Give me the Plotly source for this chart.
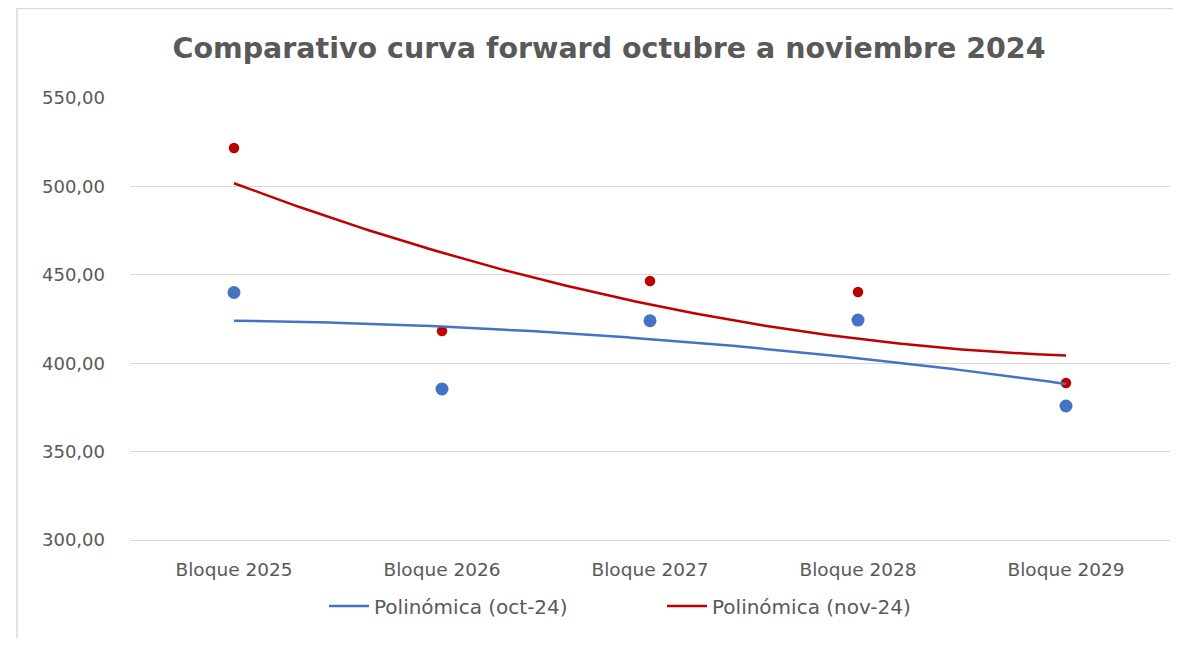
import numpy as np
import plotly.graph_objects as go

categories = ["Bloque 2025", "Bloque 2026", "Bloque 2027", "Bloque 2028", "Bloque 2029"]
oct_24 = [440.0, 385.4, 424.0, 424.4, 375.8]
nov_24 = [521.7, 418.2, 446.5, 440.3, 388.8]
y_ticks = [300, 350, 400, 450, 500, 550]

BLUE = "#4472C4"
RED = "#C00000"
GREY = "#595959"
FONT = "DejaVu Sans"

xpos = np.arange(1, len(categories) + 1)
xs = np.linspace(xpos[0], xpos[-1], 200)

def trend(vals):
    coef = np.polyfit(xpos, vals, 2)
    return np.polyval(coef, xs)

fig = go.Figure()
fig.add_trace(go.Scatter(x=xpos, y=oct_24, mode="markers", showlegend=False,
                         marker=dict(color=BLUE, size=13), hoverinfo="skip"))
fig.add_trace(go.Scatter(x=xpos, y=nov_24, mode="markers", showlegend=False,
                         marker=dict(color=RED, size=10.5), hoverinfo="skip"))
fig.add_trace(go.Scatter(x=xs, y=trend(oct_24), mode="lines", name="Polinómica (oct-24)",
                         line=dict(color=BLUE, width=2.5)))
fig.add_trace(go.Scatter(x=xs, y=trend(nov_24), mode="lines", name="Polinómica (nov-24)",
                         line=dict(color=RED, width=2.5)))

# page has an 8px body margin; figure coordinates = page coordinates - 8
OFF = 8
W, H = 1165, 630
L, T = 130 - OFF, 98 - OFF
R = W - (1170 - OFF)
B = H - (540 - OFF)
pw, ph = W - L - R, H - T - B

fig.add_shape(type="rect", xref="paper", yref="paper",
              x0=(17 - OFF - L) / pw, x1=(W + 5 - L) / pw,
              y0=-(B + 5) / ph, y1=(ph + T - 0.5) / ph,
              line=dict(color="#D9D9D9", width=1.5), layer="below")

fig.update_layout(
    width=W, height=H,
    margin=dict(l=L, r=R, t=T, b=B),
    paper_bgcolor="white", plot_bgcolor="white",
    separators=",.",
    title=dict(text="<b>Comparativo curva forward octubre a noviembre 2024</b>",
               x=(609 - OFF) / W, xanchor="center", xref="container",
               y=1 - (48 - OFF) / H, yanchor="middle", yref="container",
               font=dict(family=FONT, size=28.5, color=GREY)),
    font=dict(family=FONT, color=GREY),
    xaxis=dict(range=[0.5, 5.5], tickvals=list(xpos), ticktext=categories,
               showgrid=False, zeroline=False, showline=True,
               linecolor="#D9D9D9", linewidth=1.3,
               ticks="", tickfont=dict(size=18.5, color=GREY), ticklabelstandoff=13),
    yaxis=dict(range=[300, 550], tickvals=y_ticks, tickformat=".2f",
               showgrid=True, gridcolor="#D9D9D9", gridwidth=1.3, zeroline=False,
               showline=False, ticks="", tickfont=dict(size=18, color=GREY),
               ticklabelstandoff=24),
    legend=dict(orientation="h", x=(662 - OFF) / W, xanchor="center", xref="container",
                y=1 - (606 - OFF) / H, yanchor="middle", yref="container",
                font=dict(size=20, color=GREY), itemwidth=40, tracegroupgap=0,
                entrywidth=283, entrywidthmode="pixels"),
)

fig.write_html("out.html")
